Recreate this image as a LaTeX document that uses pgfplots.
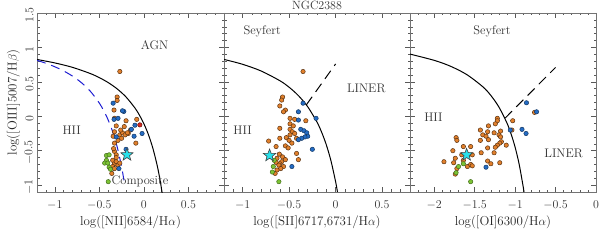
\documentclass[border=0pt]{standalone}
\usepackage{pgfplots}
\pgfplotsset{compat=1.18}
\definecolor{dorange}{RGB}{226,128,44}
\definecolor{dblue}{RGB}{36,108,196}
\definecolor{dgreen}{RGB}{124,196,52}
\definecolor{dred}{RGB}{214,40,30}
\definecolor{dcyan}{RGB}{40,225,235}
\definecolor{kblue}{RGB}{30,30,210}
\pgfdeclareplotmark{fstar}{%
  \pgfpathmoveto{\pgfpointpolar{90}{\pgfplotmarksize}}%
  \pgfpathlineto{\pgfpointpolar{126}{0.42\pgfplotmarksize}}%
  \pgfpathlineto{\pgfpointpolar{162}{\pgfplotmarksize}}%
  \pgfpathlineto{\pgfpointpolar{198}{0.42\pgfplotmarksize}}%
  \pgfpathlineto{\pgfpointpolar{234}{\pgfplotmarksize}}%
  \pgfpathlineto{\pgfpointpolar{270}{0.42\pgfplotmarksize}}%
  \pgfpathlineto{\pgfpointpolar{306}{\pgfplotmarksize}}%
  \pgfpathlineto{\pgfpointpolar{342}{0.42\pgfplotmarksize}}%
  \pgfpathlineto{\pgfpointpolar{18}{\pgfplotmarksize}}%
  \pgfpathlineto{\pgfpointpolar{54}{0.42\pgfplotmarksize}}%
  \pgfpathclose
  \pgfusepathqfillstroke}
\tikzset{lab/.style={font=\fontsize{12.5}{14}\selectfont, text=black!80}}
\pgfplotsset{
 bpt/.style={
  scale only axis, height=179bp,
  ymin=-1.1, ymax=1.5,
  ytick={-1,-0.5,0,0.5,1,1.5},
  minor x tick num=4, minor y tick num=4,
  tick align=inside,
  major tick length=5bp, minor tick length=2.5bp,
  axis line style={black!55, line width=0.5pt},
  every tick/.style={black!65, line width=0.5pt},
  tick label style={font=\fontsize{12}{14}\selectfont, text=black!80},
  xticklabel style={yshift=-5bp},
  yticklabel style={rotate=90, anchor=south, xshift=-2bp},
  label style={font=\fontsize{13}{15}\selectfont, text=black!85},
  clip=true,
 },
 orp/.style={only marks, mark=*, mark size=2.2bp, mark options={fill=dorange, draw=black!60!dorange, line width=0.5pt}},
 blp/.style={only marks, mark=*, mark size=2.2bp, mark options={fill=dblue, draw=black!50!dblue, line width=0.5pt}},
 grp/.style={only marks, mark=*, mark size=2.2bp, mark options={fill=dgreen, draw=black!45!dgreen, line width=0.5pt}},
 rdp/.style={only marks, mark=*, mark size=2.2bp, mark options={fill=dred, draw=black!50!dred, line width=0.5pt}},
 stp/.style={only marks, mark=fstar, mark size=6.5bp, mark options={fill=dcyan, draw=black!75, line width=0.6pt}},
}
\begin{document}
\begin{tikzpicture}
% ---------------- Panel 1: [NII]
\begin{axis}[bpt, width=187bp, at={(0bp,0bp)}, anchor=south west,
  xmin=-1.2, xmax=0.9, xtick={-1.5,-1,-0.5,0,0.5,1},
  xlabel={log([NII]6584/H$\alpha$)}, ylabel={log([OIII]5007/H$\beta$)},
  ylabel style={yshift=-2bp}]
\addplot[black, line width=1pt, smooth] coordinates {
(-1.2,0.825)(-1.0,0.775)(-0.8,0.710)(-0.6,0.620)(-0.5,0.561)(-0.4,0.489)(-0.3,0.398)(-0.2,0.280)(-0.1,0.120)(-0.05,0.017)(0.0,-0.108)(0.05,-0.262)(0.1,-0.459)(0.15,-0.716)(0.18,-0.913)(0.2,-1.069)(0.205,-1.112)};
\addplot[kblue, line width=1pt, dash pattern=on 9bp off 6bp, smooth] coordinates {
(-1.2,0.812)(-1.1,0.770)(-1.0,0.719)(-0.9,0.658)(-0.8,0.582)(-0.7,0.487)(-0.6,0.362)(-0.5,0.191)(-0.45,0.08)(-0.4,-0.056)(-0.35,-0.225)(-0.3,-0.443)(-0.25,-0.733)(-0.22,-0.959)};
\addplot[orp] coordinates {
(-0.27,0.65)(-0.30,0.28)(-0.30,0.23)(-0.335,0.09)(-0.33,-0.03)(-0.20,-0.065)(-0.08,-0.045)(-0.15,-0.20)(-0.175,-0.25)(-0.31,-0.14)(-0.33,-0.225)(-0.345,-0.29)(-0.27,-0.27)(-0.24,-0.24)(-0.21,-0.27)(-0.185,-0.24)(-0.33,-0.39)(-0.29,-0.35)(-0.25,-0.32)(-0.09,-0.39)(-0.33,-0.51)(-0.31,-0.56)(-0.35,-0.64)(-0.33,-0.69)(-0.31,-0.66)(-0.29,-0.71)(-0.27,-0.68)(-0.35,-0.73)(-0.33,-0.76)(-0.34,-0.47)(-0.26,-0.20)(-0.22,-0.15)(-0.36,-0.83)(-0.31,-0.60)};
\addplot[blp] coordinates {
(-0.345,0.19)(-0.225,0.07)(-0.335,-0.045)(-0.29,-0.03)(-0.02,-0.25)(-0.11,-0.29)(-0.14,-0.19)(-0.31,-0.30)(-0.20,-0.48)(-0.28,-0.76)(-0.24,0.08)(-0.10,-0.13)};
\addplot[rdp] coordinates {(-0.045,-0.125)};
\addplot[grp] coordinates {
(-0.42,-0.57)(-0.39,-0.56)(-0.42,-0.64)(-0.44,-0.68)(-0.405,-0.68)(-0.39,-0.74)(-0.375,-0.77)(-0.40,-0.95)};
\addplot[stp] coordinates {(-0.19,-0.56)};
\node[lab] at (axis cs:0.12,1.03) {AGN};
\node[lab] at (axis cs:-0.81,-0.21) {HII};
\node[lab, anchor=west, inner sep=1pt] at (axis cs:-0.375,-0.95) {Composite};
\end{axis}
% ---------------- Panel 2: [SII]
\begin{axis}[bpt, width=186bp, at={(187bp,0bp)}, anchor=south west,
  xmin=-1.2, xmax=0.8, xtick={-1.5,-1,-0.5,0,0.5,1}, yticklabels={},
  xlabel={log([SII]6717,6731/H$\alpha$)},
  title={NGC2388}, title style={font=\fontsize{12}{14}\selectfont, text=black!80, yshift=-6bp}]
\addplot[black, line width=1pt, smooth] coordinates {
(-1.2,0.826)(-1.0,0.755)(-0.8,0.657)(-0.6,0.517)(-0.5,0.422)(-0.4,0.30)(-0.3,0.139)(-0.2,-0.085)(-0.15,-0.232)(-0.1,-0.414)(-0.05,-0.646)(0.0,-0.95)(0.02,-1.10)};
\addplot[black, line width=1pt, dash pattern=on 10bp off 6bp] coordinates {(-0.315,0.165)(0.0,0.76)};
\addplot[orp] coordinates {
(-0.35,0.65)(-0.57,0.28)(-0.58,0.235)(-0.60,0.15)(-0.54,0.09)(-0.56,0.065)(-0.49,-0.03)(-0.44,-0.045)(-0.32,-0.065)(-0.49,-0.11)(-0.455,-0.14)(-0.60,-0.175)(-0.49,-0.19)(-0.465,-0.225)(-0.44,-0.25)(-0.49,-0.27)(-0.72,-0.36)(-0.60,-0.32)(-0.53,-0.31)(-0.50,-0.35)(-0.42,-0.32)(-0.64,-0.44)(-0.54,-0.43)(-0.51,-0.46)(-0.47,-0.39)(-0.42,-0.54)(-0.605,-0.55)(-0.57,-0.59)(-0.54,-0.63)(-0.58,-0.66)(-0.60,-0.69)(-0.40,-0.63)(-0.56,-0.73)(-0.65,-0.83)(-0.63,-0.61)(-0.64,-0.67)(-0.61,-0.71)(-0.59,-0.76)(-0.63,-0.78)};
\addplot[blp] coordinates {
(-0.35,0.19)(-0.40,0.065)(-0.21,-0.03)(-0.40,-0.055)(-0.375,-0.19)(-0.34,-0.21)(-0.31,-0.24)(-0.30,-0.29)(-0.33,-0.30)(-0.365,-0.32)(-0.40,-0.34)(-0.25,-0.48)(-0.47,-0.73)};
\addplot[grp] coordinates {(-0.66,-0.64)(-0.67,-0.73)(-0.68,-0.81)(-0.61,-0.95)};
\addplot[stp] coordinates {(-0.71,-0.57)};
\node[lab] at (axis cs:-0.79,1.23) {Seyfert};
\node[lab] at (axis cs:0.33,0.41) {LINER};
\node[lab] at (axis cs:-1.0,-0.21) {HII};
\end{axis}
% ---------------- Panel 3: [OI]
\begin{axis}[bpt, width=186bp, at={(373bp,0bp)}, anchor=south west,
  xmin=-2.3, xmax=0, xtick={-2.5,-2,-1.5,-1,-0.5,0}, yticklabels={},
  xlabel={log([OI]6300/H$\alpha$)}]
\addplot[black, line width=1pt, smooth] coordinates {
(-2.3,0.903)(-2.0,0.812)(-1.8,0.727)(-1.6,0.607)(-1.4,0.429)(-1.3,0.302)(-1.2,0.133)(-1.1,-0.101)(-1.05,-0.257)(-1.0,-0.450)(-0.95,-0.698)(-0.9,-1.025)(-0.89,-1.103)};
\addplot[black, line width=1pt, dash pattern=on 10bp off 6bp] coordinates {(-1.125,-0.028)(-0.5,0.71)};
\addplot[orp] coordinates {
(-0.76,0.056)(-1.22,-0.03)(-1.22,-0.065)(-1.245,-0.11)(-1.33,-0.14)(-1.43,-0.20)(-1.34,-0.225)(-1.26,-0.24)(-1.18,-0.215)(-1.40,-0.27)(-1.36,-0.29)(-1.20,-0.27)(-1.18,-0.30)(-1.33,-0.34)(-1.43,-0.35)(-1.17,-0.37)(-1.19,-0.39)(-1.22,-0.42)(-1.11,-0.42)(-1.245,-0.45)(-1.64,-0.44)(-1.73,-0.31)(-1.72,-0.35)(-1.77,-0.50)(-1.55,-0.44)(-1.34,-0.46)(-1.03,-0.065)(-1.04,-0.20)(-1.42,-0.53)(-1.26,-0.53)(-1.34,-0.65)(-1.30,-0.69)(-1.19,-0.675)(-1.74,-0.61)(-1.88,-0.66)(-1.76,-0.675)(-1.66,-0.56)(-1.64,-0.64)(-1.53,-0.56)(-1.59,-0.73)(-1.55,-0.70)(-1.53,-0.72)(-1.72,-0.76)(-1.74,-0.84)};
\addplot[blp] coordinates {(-0.86,0.196)(-0.735,0.065)(-1.06,-0.20)(-0.915,-0.19)(-0.865,-0.25)(-1.36,-0.74)};
\addplot[grp] coordinates {(-1.70,-0.73)(-1.64,-0.69)(-1.73,-0.82)(-1.55,-0.95)};
\addplot[stp] coordinates {(-1.60,-0.56)};
\node[lab] at (axis cs:-1.285,1.23) {Seyfert};
\node[lab] at (axis cs:-2.01,-0.01) {HII};
\node[lab] at (axis cs:-0.40,-0.54) {LINER};
\end{axis}
\pgfresetboundingbox
\useasboundingbox (-37bp,-49bp) rectangle (563bp,192bp);
\end{tikzpicture}
\end{document}
